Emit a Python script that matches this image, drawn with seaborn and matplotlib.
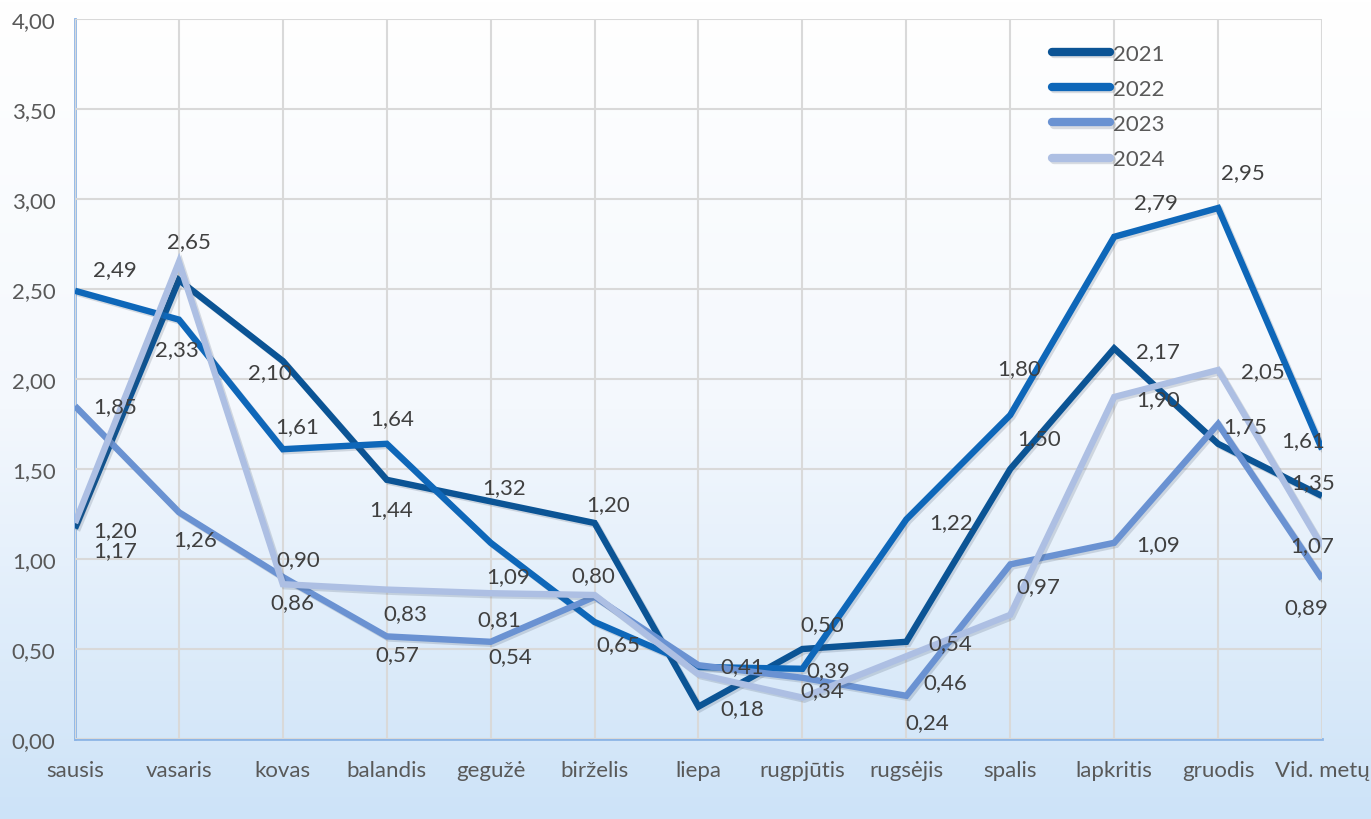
import numpy as np
import pandas as pd
import matplotlib
matplotlib.use("Agg")
import matplotlib.pyplot as plt
import matplotlib.patheffects as pe
from matplotlib.colors import LinearSegmentedColormap
import seaborn as sns

# Monthly values per year (last column is the yearly average)
months = ["sausis", "vasaris", "kovas", "balandis", "gegužė", "birželis", "liepa",
          "rugpjūtis", "rugsėjis", "spalis", "lapkritis", "gruodis", "Vid. metų"]
years = ["2021", "2022", "2023", "2024"]
v2021 = [1.17, 2.55, 2.10, 1.44, 1.32, 1.20, 0.18, 0.50, 0.54, 1.50, 2.17, 1.64, 1.35]
v2022 = [2.49, 2.33, 1.61, 1.64, 1.09, 0.65, 0.40, 0.39, 1.22, 1.80, 2.79, 2.95, 1.61]
v2023 = [1.85, 1.26, 0.90, 0.57, 0.54, 0.79, 0.41, 0.34, 0.24, 0.97, 1.09, 1.75, 0.89]
v2024 = [1.20, 2.65, 0.86, 0.83, 0.81, 0.80, 0.36, 0.23, 0.46, 0.69, 1.90, 2.05, 1.07]
y_ticks = [0.0, 0.5, 1.0, 1.5, 2.0, 2.5, 3.0, 3.5, 4.0]

colors = ["#0b5495", "#0e67b9", "#6a92d2", "#adbfe3"]

# Pixel offsets of the value labels from their points (None = no label shown)
label_offsets = {
    "2021": [(40, 22), None, (-13, 11), (4, 29), (13, -14), (13, -19), (44, 1),
             (20, -25), (44, 1), (29, -31), (44, 3), None, (-9, -14)],
    "2022": [(40, -22), (-2, 29), (14, -23), (5, -26), (17, 33), (24, 22), None,
             (26, 1), (45, 3), (9, -47), (42, -35), (25, -36), (-19, -9)],
    "2023": [(40, 0), (16, 27), (15, -18), (11, 18), (20, 14), None, (44, 1),
             (20, 12), (21, 26), (28, 22), (44, 1), (27, 2), (-16, 28)],
    "2024": [(40, 7), (10, -21), (10, 18), (19, 23), (9, 26), (-1, -20), None,
             None, (39, 26), None, (44, 2), (45, 1), (-10, -1)],
}

series = dict(zip(years, [v2021, v2022, v2023, v2024]))
df = pd.DataFrame(
    [(i, y, v) for y, vals in series.items() for i, v in enumerate(vals)],
    columns=["pos", "year", "value"],
)

sns.set_theme(style="white")
plt.rcParams["font.family"] = ["Lato", "DejaVu Sans"]
text_color = "#595959"
fs = 16

fig = plt.figure(figsize=(13.71, 8.2), dpi=100)

# Soft white-to-blue backdrop behind everything
bg = fig.add_axes([0, 0, 1, 1], zorder=0)
grad = np.linspace(0, 1, 256).reshape(-1, 1)
cmap = LinearSegmentedColormap.from_list("bg", ["#ffffff", "#f4f8fd", "#cde3f8"])
bg.imshow(grad, aspect="auto", cmap=cmap, extent=[0, 1, 0, 1], origin="upper")
bg.set_axis_off()

ax = fig.add_axes([75 / 1371, 1 - 740 / 820, (1322 - 75) / 1371, 720 / 820], zorder=1)
ax.patch.set_alpha(0)

sns.lineplot(data=df, x="pos", y="value", hue="year", palette=colors,
             linewidth=4.6, ax=ax, sort=False, legend=True)

shadow = [pe.SimpleLineShadow(offset=(1.5, -1.5), alpha=0.18, shadow_color="#3a4a60"),
          pe.Normal()]
for line in ax.get_lines():
    line.set_path_effects(shadow)
    line.set_solid_capstyle("butt")
    line.set_solid_joinstyle("miter")

# Value labels with comma decimals
for y in years:
    for i, (v, off) in enumerate(zip(series[y], label_offsets[y])):
        if off is None:
            continue
        ax.annotate(f"{v:.2f}".replace(".", ","), xy=(i, v), xytext=(off[0], -off[1]),
                    textcoords="offset pixels", ha="center", va="center",
                    fontsize=fs, color="#404040", zorder=5)

ax.set_xlim(0, len(months) - 1)
ax.set_ylim(0, 4)
ax.set_xticks(range(len(months)))
ax.set_xticklabels(months)
ax.set_yticks(y_ticks)
ax.set_yticklabels([f"{t:.2f}".replace(".", ",") for t in y_ticks])
ax.tick_params(axis="x", length=0, pad=15, labelsize=fs, labelcolor=text_color)
ax.tick_params(axis="y", length=0, pad=14, labelsize=fs, labelcolor=text_color)
ax.set_xlabel("")
ax.set_ylabel("")

ax.grid(True, color="#d9d9d9", linewidth=1.5)
ax.set_axisbelow(True)
for side in ["top", "right"]:
    ax.spines[side].set_visible(False)
for side in ["left", "bottom"]:
    ax.spines[side].set_color("#8db5e6")
    ax.spines[side].set_linewidth(2)
    ax.spines[side].set_zorder(0.5)

handles, labels = ax.get_legend_handles_labels()
for h in handles:
    h.set_linewidth(6)
    h.set_solid_capstyle("round")
leg = ax.legend(handles, labels, loc="upper left",
                bbox_to_anchor=(1032 / 1371, 1 - 25 / 820), bbox_transform=fig.transFigure,
                frameon=False, fontsize=fs, handlelength=2.6, handletextpad=0.15,
                labelspacing=0.68, labelcolor=text_color)

fig.savefig("out.png", dpi=100)
